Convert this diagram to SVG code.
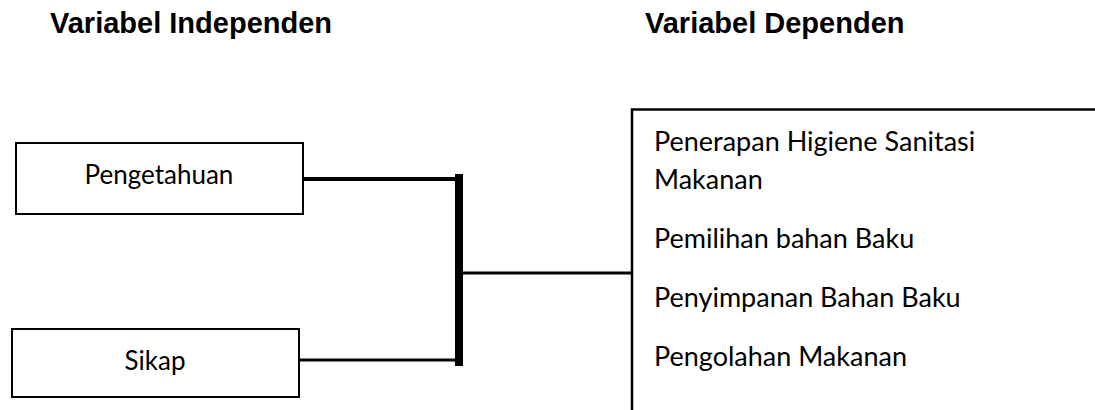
<svg xmlns="http://www.w3.org/2000/svg" width="1095" height="410" viewBox="0 0 1095 410">
  <style>
    .title { font-family: "Liberation Sans", Arial, sans-serif; font-weight: bold; font-size: 29px; fill: #000; }
    .label { font-family: Lato, "Open Sans", sans-serif; font-size: 26px; fill: #000; }
    .item { font-family: Lato, "Open Sans", sans-serif; font-size: 27px; fill: #000; }
    .box { fill: #fff; stroke: #000; stroke-width: 2; }
    .edge { stroke: #000; fill: none; stroke-linecap: square; }
  </style>
  <rect width="1095" height="410" fill="#fff"/>

  <!-- column headings -->
  <text class="title" x="50" y="33">Variabel Independen</text>
  <text class="title" x="645" y="33">Variabel Dependen</text>

  <!-- connectors -->
  <g id="connectors">
    <line class="edge" x1="304" y1="179" x2="459" y2="179" stroke-width="4"/>
    <line class="edge" x1="300" y1="360" x2="459" y2="360" stroke-width="3"/>
    <line class="edge" x1="459" y1="178" x2="459" y2="362" stroke-width="8"/>
    <line class="edge" x1="463" y1="273" x2="631" y2="273" stroke-width="3"/>
  </g>

  <g id="pengetahuan">
    <rect class="box" x="16" y="143" width="287" height="71"/>
    <text class="label" x="159" y="184" text-anchor="middle">Pengetahuan</text>
  </g>

  <g id="sikap">
    <rect class="box" x="12" y="329" width="287" height="68"/>
    <text class="label" x="155" y="370" text-anchor="middle">Sikap</text>
  </g>

  <g id="variabel-dependen">
    <path d="M632 411 V109.5 H1096" fill="none" stroke="#000" stroke-width="2.5"/>
    <text class="item" x="654" y="151">Penerapan Higiene Sanitasi</text>
    <text class="item" x="654" y="189">Makanan</text>
    <text class="item" x="654" y="248">Pemilihan bahan Baku</text>
    <text class="item" x="654" y="307">Penyimpanan Bahan Baku</text>
    <text class="item" x="654" y="366">Pengolahan Makanan</text>
  </g>
</svg>
